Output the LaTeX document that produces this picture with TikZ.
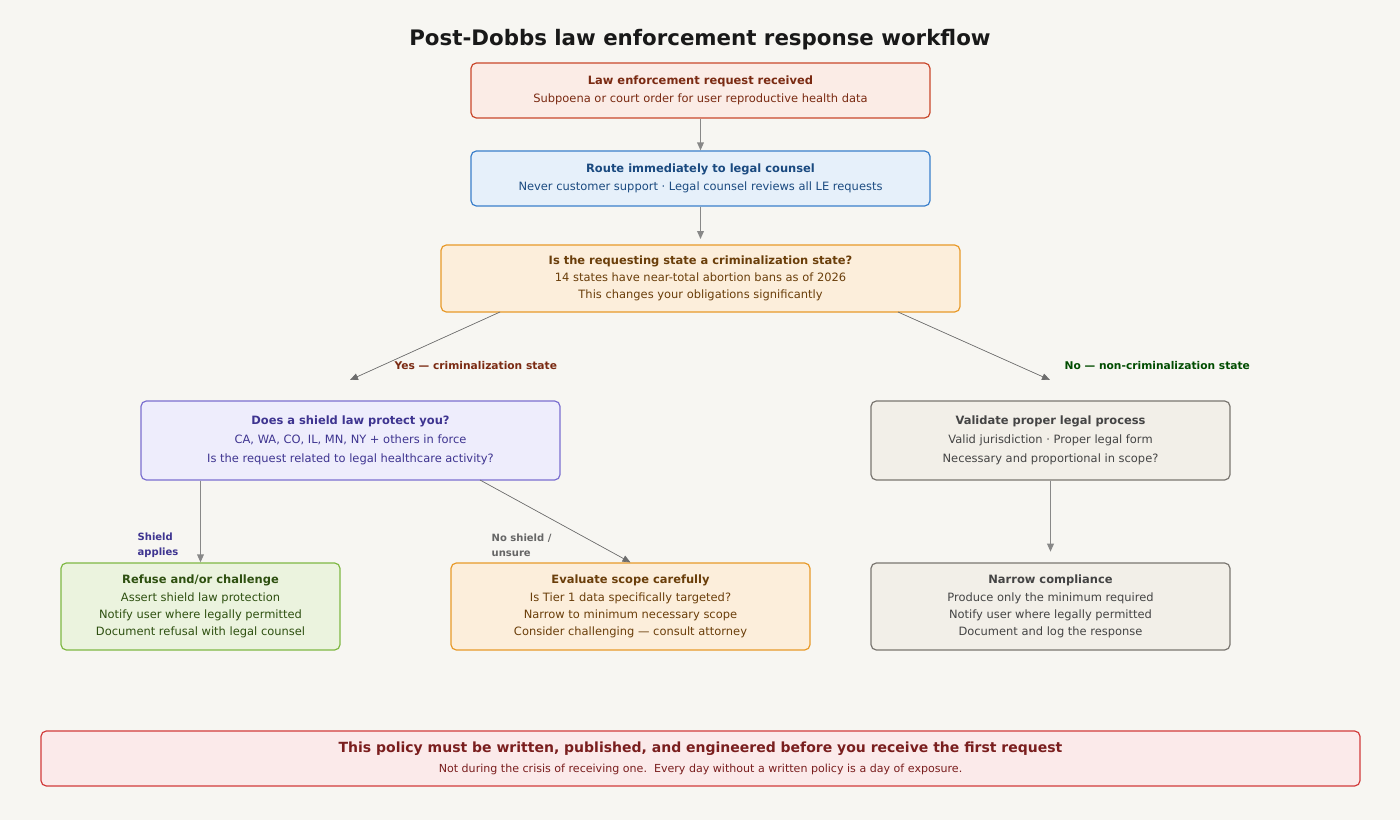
\documentclass[tikz,border=0pt]{standalone}
\usepackage{fontspec}
\setmainfont{DejaVu Sans}
\usetikzlibrary{arrows.meta,positioning}
\definecolor{bgc}{HTML}{F7F6F2}
\definecolor{redf}{HTML}{FBECE6}\definecolor{redd}{HTML}{C9472B}\definecolor{redt}{HTML}{7A2A12}
\definecolor{bluf}{HTML}{E6F0FA}\definecolor{blud}{HTML}{3A7FCB}\definecolor{blut}{HTML}{1A4A80}
\definecolor{orf}{HTML}{FCEEDB}\definecolor{ord}{HTML}{E89A2A}\definecolor{ort}{HTML}{6A3E0A}
\definecolor{lavf}{HTML}{EEEDFC}\definecolor{lavd}{HTML}{7B6FD0}\definecolor{lavt}{HTML}{3E3490}
\definecolor{gryf}{HTML}{F2EFE8}\definecolor{gryd}{HTML}{7A7670}\definecolor{gryt}{HTML}{444444}
\definecolor{grnf}{HTML}{EBF3DE}\definecolor{grnd}{HTML}{7FB843}\definecolor{grnt}{HTML}{2E5010}
\definecolor{pinf}{HTML}{FBEAEA}\definecolor{pind}{HTML}{D23B3B}\definecolor{pint}{HTML}{7A1E1E}
\definecolor{arr}{HTML}{888888}
\tikzset{
  box/.style={draw, rounded corners=4pt, line width=0.9pt, align=center, inner sep=0pt,
    font=\fontsize{8.6}{13}\selectfont},
  flow/.style={-{Triangle[length=6pt,width=5pt]}, draw=arr, fill=arr, line width=1pt},
  slant/.style={-{Triangle[length=6pt,width=5pt]}, draw=arr!80!black, fill=arr, line width=0.5pt},
  lbl/.style={font=\bfseries\fontsize{8}{11}\selectfont, align=left, anchor=west}
}
\begin{document}
\begin{tikzpicture}[x=0.75pt,y=-0.75pt]
  \fill[bgc] (0,0) rectangle (1400,820);
  \node[font=\bfseries\fontsize{16}{19}\selectfont, text=black!90] (title) at (700,40) {Post-Dobbs law enforcement response workflow};
  % top chain
  \node[box, fill=redf, draw=redd, text=redt, minimum width=459*0.75pt, minimum height=55*0.75pt] (recv) at (700.5,90.5)
    {\textbf{Law enforcement request received}\\Subpoena or court order for user reproductive health data};
  \node[box, fill=bluf, draw=blud, text=blut, minimum width=459*0.75pt, minimum height=55*0.75pt] (route) at (700.5,178.5)
    {\textbf{Route immediately to legal counsel}\\Never customer support · Legal counsel reviews all LE requests};
  \node[box, fill=orf, draw=ord, text=ort, minimum width=519*0.75pt, minimum height=67*0.75pt] (crim) at (700.5,278.5)
    {\textbf{Is the requesting state a criminalization state?}\\14 states have near-total abortion bans as of 2026\\This changes your obligations significantly};
  % second row
  \node[box, fill=lavf, draw=lavd, text=lavt, minimum width=419*0.75pt, minimum height=79*0.75pt,
    font=\fontsize{8.6}{14.5}\selectfont] (shield) at (350.5,440.5)
    {\textbf{Does a shield law protect you?}\\CA, WA, CO, IL, MN, NY + others in force\\Is the request related to legal healthcare activity?};
  \node[box, fill=gryf, draw=gryd, text=gryt, minimum width=359*0.75pt, minimum height=79*0.75pt,
    font=\fontsize{8.6}{14.5}\selectfont] (valid) at (1050.5,440.5)
    {\textbf{Validate proper legal process}\\Valid jurisdiction · Proper legal form\\Necessary and proportional in scope?};
  % third row
  \node[box, fill=grnf, draw=grnd, text=grnt, minimum width=279*0.75pt, minimum height=87*0.75pt] (refuse) at (200.5,606.5)
    {\textbf{Refuse and/or challenge}\\Assert shield law protection\\Notify user where legally permitted\\Document refusal with legal counsel};
  \node[box, fill=orf, draw=ord, text=ort, minimum width=359*0.75pt, minimum height=87*0.75pt] (scope) at (630.5,606.5)
    {\textbf{Evaluate scope carefully}\\Is Tier 1 data specifically targeted?\\Narrow to minimum necessary scope\\Consider challenging — consult attorney};
  \node[box, fill=gryf, draw=gryd, text=gryt, minimum width=359*0.75pt, minimum height=87*0.75pt] (narrow) at (1050.5,606.5)
    {\textbf{Narrow compliance}\\Produce only the minimum required\\Notify user where legally permitted\\Document and log the response};
  % footer
  \node[box, fill=pinf, draw=pind, text=pint, minimum width=1319*0.75pt, minimum height=55*0.75pt,
    font=\fontsize{8.3}{15}\selectfont] (policy) at (700.5,758.5)
    {{\bfseries\fontsize{10.5}{13}\selectfont This policy must be written, published, and engineered before you receive the first request}\\Not during the crisis of receiving one.\ \ Every day without a written policy is a day of exposure.};
  % connectors
  \coordinate (yesend) at (350,380);
  \coordinate (noend) at (1050,380);
  \draw[flow] (recv) -- (route);
  \draw[flow] (route) -- ([yshift=4pt]crim.north);
  \draw[slant] (500,312) -- (yesend);
  \draw[slant] (898,312) -- (noend);
  \draw[flow] (shield.south -| refuse.north) -- (refuse.north);
  \draw[slant] (480,480) -- (scope.north);
  \draw[flow] (valid) -- ([yshift=8pt]narrow.north);
  % labels
  \node[lbl, text=redt] (yeslbl) at (390,366) {Yes — criminalization state};
  \node[lbl, text=HTML-1E4D3A, text=green!30!black] (nolbl) at (1060,366) {No — non-criminalization state};
  \node[lbl, text=lavt, font=\bfseries\fontsize{7.5}{11}\selectfont] (shlbl) at (133,545) {Shield\\applies};
  \node[lbl, text=gray!80!black, font=\bfseries\fontsize{7.5}{11}\selectfont] (nslbl) at (487,545) {No shield /\\unsure};
\end{tikzpicture}
\end{document}
